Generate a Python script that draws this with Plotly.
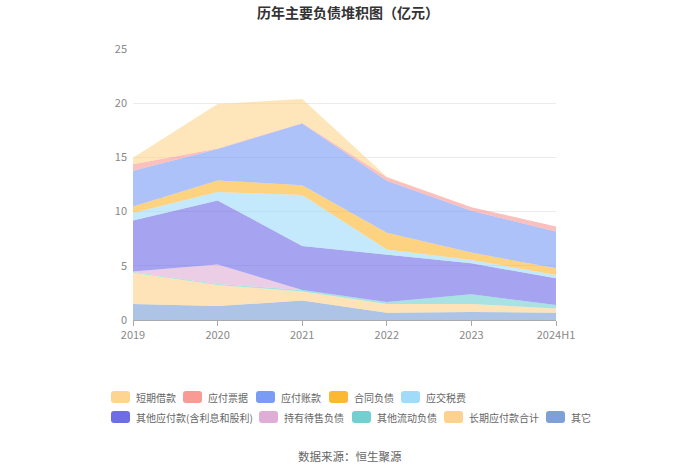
import plotly.graph_objects as go

years = ["2019", "2020", "2021", "2022", "2023", "2024H1"]

qita = [1.48, 1.29, 1.79, 0.68, 0.74, 0.68]
changqi_yingfu = [2.89, 1.94, 0.83, 0.80, 0.74, 0.37]
qita_liudong = [0.05, 0.10, 0.15, 0.18, 0.89, 0.34]
chiyou_daishou = [0.05, 1.80, 0.00, 0.00, 0.00, 0.00]
qita_yingfu = [4.70, 5.90, 4.06, 4.34, 2.86, 2.46]
yingjiao_shuifei = [0.70, 0.77, 4.70, 0.50, 0.31, 0.31]
hetong_fuzhai = [0.60, 1.08, 0.90, 1.54, 0.68, 0.61]
yingfu_zhangkuan = [3.30, 2.90, 5.70, 4.80, 3.85, 3.39]
yingfu_piaoju = [0.60, 0.05, 0.05, 0.33, 0.34, 0.46]
duanqi_jiekuan = [0.60, 4.10, 2.20, 0.05, 0.00, 0.00]

# stacking order bottom -> top
series = [
    ("其它", qita, "#7da0d8"),
    ("长期应付款合计", changqi_yingfu, "#fdd28e"),
    ("其他流动负债", qita_liudong, "#72d0d0"),
    ("持有待售负债", chiyou_daishou, "#dfaed6"),
    ("其他应付款(含利息和股利)", qita_yingfu, "#6f6ce8"),
    ("应交税费", yingjiao_shuifei, "#a0dcfa"),
    ("合同负债", hetong_fuzhai, "#fbb833"),
    ("应付账款", yingfu_zhangkuan, "#7b9cf5"),
    ("应付票据", yingfu_piaoju, "#f99a94"),
    ("短期借款", duanqi_jiekuan, "#fdd590"),
]

legend_rows = [
    ["短期借款", "应付票据", "应付账款", "合同负债", "应交税费"],
    ["其他应付款(含利息和股利)", "持有待售负债", "其他流动负债", "长期应付款合计", "其它"],
]
legend_x = [[111, 183, 256, 329, 401], [111, 259, 352, 444, 546]]
legend_y = [397, 417]

def rgba(hexc, a):
    h = hexc.lstrip("#")
    r, g, b = int(h[0:2], 16), int(h[2:4], 16), int(h[4:6], 16)
    return f"rgba({r},{g},{b},{a})"

W, H = 700, 474
L, R, T, B = 133, 556, 49, 320

def xp(px):
    return (px - L) / (R - L)

def yp(py):
    return (B - py) / (B - T)

fig = go.Figure()
for name, vals, color in series:
    fig.add_trace(go.Scatter(
        x=years, y=vals, name=name, mode="lines",
        stackgroup="one", line=dict(width=0, color=color),
        fillcolor=rgba(color, 0.62), showlegend=False,
        hoverinfo="skip",
    ))

font_family = "Noto Sans CJK SC, Noto Sans, sans-serif"
colors = {n: c for n, _, c in series}

shapes = []
annotations = []
for row, xs, yc in zip(legend_rows, legend_x, legend_y):
    for name, x0 in zip(row, xs):
        x1 = x0 + 19
        y0, y1 = yc - 6, yc + 6
        r = 3
        path = (f"M {xp(x0 + r)},{yp(y0)} L {xp(x1 - r)},{yp(y0)} "
                f"Q {xp(x1)},{yp(y0)} {xp(x1)},{yp(y0 + r)} "
                f"L {xp(x1)},{yp(y1 - r)} Q {xp(x1)},{yp(y1)} {xp(x1 - r)},{yp(y1)} "
                f"L {xp(x0 + r)},{yp(y1)} Q {xp(x0)},{yp(y1)} {xp(x0)},{yp(y1 - r)} "
                f"L {xp(x0)},{yp(y0 + r)} Q {xp(x0)},{yp(y0)} {xp(x0 + r)},{yp(y0)} Z")
        shapes.append(dict(type="path", path=path, xref="paper", yref="paper",
                           fillcolor=colors[name], line=dict(width=0), layer="above"))
        annotations.append(dict(text=name, x=xp(x0 + 23), y=yp(yc), xref="paper",
                                yref="paper", xanchor="left", yanchor="middle",
                                showarrow=False,
                                font=dict(size=10, color="#666", family=font_family)))

annotations.append(dict(text="数据来源：恒生聚源", x=xp(350), y=yp(456), xref="paper",
                        yref="paper", xanchor="center", yanchor="middle", showarrow=False,
                        font=dict(size=11.5, color="#666", family=font_family)))

fig.update_layout(
    width=W, height=H,
    margin=dict(l=L, r=W - R, t=T, b=H - B, autoexpand=False),
    paper_bgcolor="white", plot_bgcolor="white",
    font=dict(family=font_family, size=11, color="#666"),
    title=dict(text="<b>历年主要负债堆积图（亿元）</b>", x=0.497, xanchor="center",
               y=1 - 13 / H, yanchor="middle", font=dict(size=14, color="#333")),
    xaxis=dict(type="category", range=[0, 5], showgrid=False,
               showline=True, linecolor="#aaa", ticks="outside",
               tickcolor="#aaa", ticklen=5, tickfont=dict(size=11, color="#888")),
    yaxis=dict(range=[0, 25], dtick=5, showgrid=True, gridcolor="#ebebeb",
               zeroline=False, showline=False, tickfont=dict(size=11, color="#888"),
               ticksuffix="  "),
    showlegend=False,
    shapes=shapes,
    annotations=annotations,
)

fig.write_html("out.html", config={"displayModeBar": False},
               post_script="document.body.style.margin='0';")
